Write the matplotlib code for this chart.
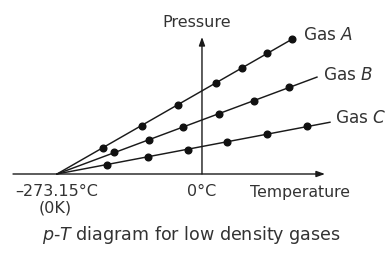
import numpy as np
import matplotlib.pyplot as plt

# temperatures in degrees C, pressure in arbitrary units
abs_zero = -273.15
gas_a_t = [-186.5, -113.0, -45.2, 26.4, 75.4, 122.4, 169.6]
gas_a_p = [26, 48, 69, 91, 106, 121, 135]
gas_b_t = [-165.8, -99.8, -35.8, 32.0, 98.0, 163.9]
gas_b_p = [22, 34, 47, 60, 73, 87]
gas_c_t = [-179.0, -101.7, -26.4, 47.1, 122.4, 197.8]
gas_c_p = [9, 17, 24, 32, 40, 48]
line_end_t = [169.6, 216.6, 241.1]
gas_names = ['A', 'B', 'C']

txt = '#333333'
plt.rcParams['font.family'] = ['DejaVu Sans']

fig = plt.figure(figsize=(3.9, 2.55), dpi=100)
ax = fig.add_axes([0, 0, 1, 1])
ax.set_xlim(-380.5, 354.2)
ax.set_ylim(-80, 175)
ax.axis('off')

# axes with arrows
arrow = dict(arrowstyle='-|>,head_length=0.5,head_width=0.18',
             lw=1.0, color='#1a1a1a', shrinkA=0, shrinkB=0)
ax.annotate('', xy=(231.7, 0), xytext=(-356.0, 0), arrowprops=arrow)
ax.annotate('', xy=(0, 137), xytext=(0, 0), arrowprops=arrow)

series = [(gas_a_t, gas_a_p), (gas_b_t, gas_b_p), (gas_c_t, gas_c_p)]
label_pos = [(190, 140), (228, 100), (250.5, 57)]
for (t, p), t_end, name, (lx, ly) in zip(series, line_end_t, gas_names, label_pos):
    dt = np.array(t) - abs_zero
    slope = np.sum(dt * np.array(p)) / np.sum(dt ** 2)
    ax.plot([abs_zero, t_end], [0, slope * (t_end - abs_zero)], color='#1a1a1a', lw=1.05)
    ax.plot(t, p, 'o', color='#111111', ms=4.8)
    ax.text(lx, ly, 'Gas $\\it{' + name + '}$', fontsize=12.2, color=txt,
            ha='left', va='center')

ax.text(-9.4, 153, 'Pressure', fontsize=11.5, color=txt, ha='center', va='center')
ax.text(-274, -17, '\u2013273.15\u00b0C', fontsize=11.5, color=txt, ha='center', va='center')
ax.text(-277, -33, '(0K)', fontsize=11.5, color=txt, ha='center', va='center')
ax.text(0, -17, '0\u00b0C', fontsize=11.5, color=txt, ha='center', va='center')
ax.text(90.4, -17, 'Temperature', fontsize=11.3, color=txt, ha='left', va='center')
ax.text(-20.7, -60, '$p$-$T$ diagram for low density gases', fontsize=12.6,
        color=txt, ha='center', va='center')

fig.savefig('out.png', dpi=100)
